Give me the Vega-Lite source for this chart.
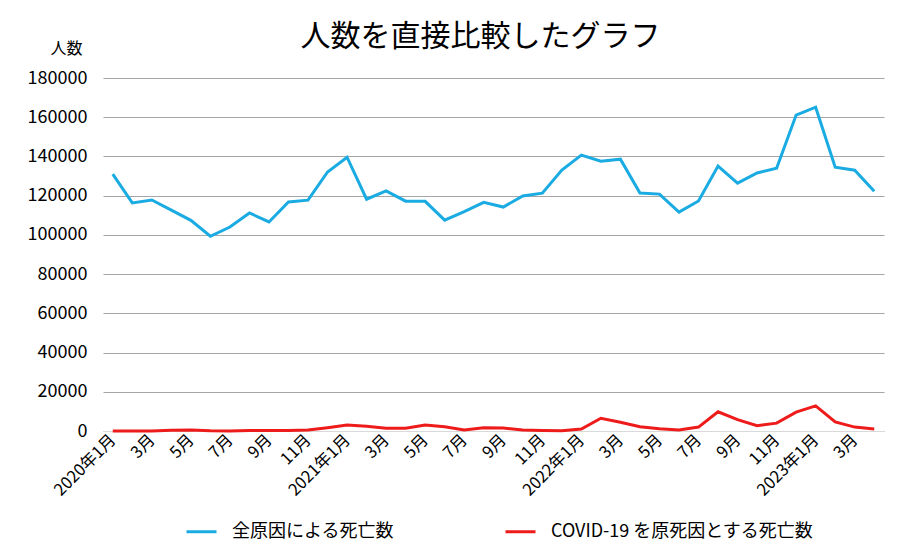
{
  "$schema": "https://vega.github.io/schema/vega-lite/v6.json",
  "width": 781,
  "height": 353,
  "autosize": {"type": "none"},
  "padding": {"left": 103, "top": 78, "right": 28, "bottom": 129},
  "background": "white",
  "title": {
    "text": "人数を直接比較したグラフ",
    "fontSize": 30,
    "fontWeight": "normal",
    "font": "Noto Sans CJK JP",
    "color": "#000000",
    "offset": -12,
    "dx": -13
  },
  "data": {
    "values": [
      {"月": "2020-01", "全原因による死亡数": 131000, "COVID-19 を原死因とする死亡数": 0},
      {"月": "2020-02", "全原因による死亡数": 116300, "COVID-19 を原死因とする死亡数": 10},
      {"月": "2020-03", "全原因による死亡数": 117800, "COVID-19 を原死因とする死亡数": 50},
      {"月": "2020-04", "全原因による死亡数": 112600, "COVID-19 を原死因とする死亡数": 400},
      {"月": "2020-05", "全原因による死亡数": 107400, "COVID-19 を原死因とする死亡数": 500},
      {"月": "2020-06", "全原因による死亡数": 99300, "COVID-19 を原死因とする死亡数": 100},
      {"月": "2020-07", "全原因による死亡数": 104000, "COVID-19 を原死因とする死亡数": 50},
      {"月": "2020-08", "全原因による死亡数": 111200, "COVID-19 を原死因とする死亡数": 300},
      {"月": "2020-09", "全原因による死亡数": 106600, "COVID-19 を原死因とする死亡数": 300},
      {"月": "2020-10", "全原因による死亡数": 116800, "COVID-19 を原死因とする死亡数": 200},
      {"月": "2020-11", "全原因による死亡数": 117700, "COVID-19 を原死因とする死亡数": 500},
      {"月": "2020-12", "全原因による死亡数": 132100, "COVID-19 を原死因とする死亡数": 1700},
      {"月": "2021-01", "全原因による死亡数": 139600, "COVID-19 を原死因とする死亡数": 3000},
      {"月": "2021-02", "全原因による死亡数": 118200, "COVID-19 を原死因とする死亡数": 2400},
      {"月": "2021-03", "全原因による死亡数": 122400, "COVID-19 を原死因とする死亡数": 1400},
      {"月": "2021-04", "全原因による死亡数": 117200, "COVID-19 を原死因とする死亡数": 1400},
      {"月": "2021-05", "全原因による死亡数": 117100, "COVID-19 を原死因とする死亡数": 3000},
      {"月": "2021-06", "全原因による死亡数": 107500, "COVID-19 を原死因とする死亡数": 2200},
      {"月": "2021-07", "全原因による死亡数": 111900, "COVID-19 を原死因とする死亡数": 500},
      {"月": "2021-08", "全原因による死亡数": 116600, "COVID-19 を原死因とする死亡数": 1600},
      {"月": "2021-09", "全原因による死亡数": 114200, "COVID-19 を原死因とする死亡数": 1500},
      {"月": "2021-10", "全原因による死亡数": 119800, "COVID-19 を原死因とする死亡数": 500},
      {"月": "2021-11", "全原因による死亡数": 121300, "COVID-19 を原死因とする死亡数": 200},
      {"月": "2021-12", "全原因による死亡数": 133100, "COVID-19 を原死因とする死亡数": 100},
      {"月": "2022-01", "全原因による死亡数": 140700, "COVID-19 を原死因とする死亡数": 1000},
      {"月": "2022-02", "全原因による死亡数": 137600, "COVID-19 を原死因とする死亡数": 6500},
      {"月": "2022-03", "全原因による死亡数": 138600, "COVID-19 を原死因とする死亡数": 4500},
      {"月": "2022-04", "全原因による死亡数": 121300, "COVID-19 を原死因とする死亡数": 2200},
      {"月": "2022-05", "全原因による死亡数": 120800, "COVID-19 を原死因とする死亡数": 1100},
      {"月": "2022-06", "全原因による死亡数": 111600, "COVID-19 を原死因とする死亡数": 500},
      {"月": "2022-07", "全原因による死亡数": 117300, "COVID-19 を原死因とする死亡数": 2000},
      {"月": "2022-08", "全原因による死亡数": 135100, "COVID-19 を原死因とする死亡数": 9800},
      {"月": "2022-09", "全原因による死亡数": 126400, "COVID-19 を原死因とする死亡数": 5800},
      {"月": "2022-10", "全原因による死亡数": 131600, "COVID-19 を原死因とする死亡数": 2700},
      {"月": "2022-11", "全原因による死亡数": 134000, "COVID-19 を原死因とする死亡数": 4000},
      {"月": "2022-12", "全原因による死亡数": 161100, "COVID-19 を原死因とする死亡数": 9600},
      {"月": "2023-01", "全原因による死亡数": 165100, "COVID-19 を原死因とする死亡数": 12800},
      {"月": "2023-02", "全原因による死亡数": 134500, "COVID-19 を原死因とする死亡数": 4600},
      {"月": "2023-03", "全原因による死亡数": 133000, "COVID-19 を原死因とする死亡数": 2000},
      {"月": "2023-04", "全原因による死亡数": 122200, "COVID-19 を原死因とする死亡数": 1000}
    ]
  },
  "transform": [
    {"fold": ["全原因による死亡数", "COVID-19 を原死因とする死亡数"], "as": ["系列", "人数"]}
  ],
  "mark": {"type": "line", "strokeWidth": 3, "strokeJoin": "miter"},
  "encoding": {
    "x": {
      "field": "月",
      "type": "ordinal",
      "sort": null,
      "scale": {"type": "point", "padding": 0.5},
      "axis": {
        "title": null,
        "values": ["2020-01", "2020-03", "2020-05", "2020-07", "2020-09", "2020-11", "2021-01", "2021-03", "2021-05", "2021-07", "2021-09", "2021-11", "2022-01", "2022-03", "2022-05", "2022-07", "2022-09", "2022-11", "2023-01", "2023-03"],
        "labelExpr": "slice(datum.value, 5) == '01' ? slice(datum.value, 0, 4) + '年1月' : toNumber(slice(datum.value, 5)) + '月'",
        "labelAngle": -45,
        "labelAlign": "right",
        "labelBaseline": "middle",
        "labelFontSize": 16.5,
        "labelFont": "Noto Sans CJK JP",
        "labelColor": "#000000",
        "labelPadding": 6,
        "ticks": false,
        "grid": false,
        "domainColor": "#d9d9d9",
        "domainWidth": 1
      }
    },
    "y": {
      "field": "人数",
      "type": "quantitative",
      "scale": {"domain": [0, 180000], "nice": false},
      "axis": {
        "title": "人数",
        "titleAngle": 0,
        "titleFontSize": 16,
        "titleFontWeight": "normal",
        "titleFont": "Noto Sans CJK JP",
        "titleColor": "#000000",
        "titleAlign": "right",
        "titleX": -21,
        "titleY": -22,
        "values": [0, 20000, 40000, 60000, 80000, 100000, 120000, 140000, 160000, 180000],
        "format": "d",
        "labelFontSize": 18,
        "labelFont": "Noto Sans CJK JP",
        "labelColor": "#000000",
        "labelPadding": 16,
        "ticks": false,
        "domain": false,
        "gridColor": "#a6a6a6",
        "gridWidth": 1
      }
    },
    "color": {
      "field": "系列",
      "type": "nominal",
      "sort": null,
      "scale": {
        "domain": ["全原因による死亡数", "COVID-19 を原死因とする死亡数"],
        "range": ["#1AABE2", "#EE1B1B"]
      },
      "legend": {
        "title": null,
        "orient": "none",
        "direction": "horizontal",
        "legendX": 82,
        "legendY": 437,
        "symbolType": "stroke",
        "symbolSize": 900,
        "symbolStrokeWidth": 3,
        "labelFontSize": 18,
        "labelFont": "Noto Sans CJK JP",
        "labelColor": "#000000",
        "labelOffset": 14,
        "labelLimit": 0,
        "columnPadding": 105
      }
    }
  },
  "config": {
    "view": {"stroke": null}
  }
}
